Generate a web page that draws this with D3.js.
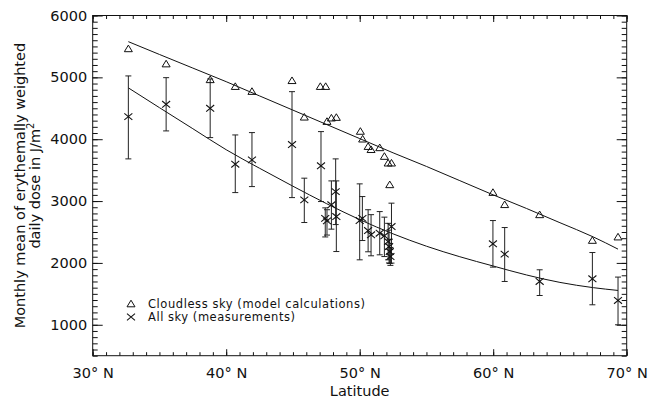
<!DOCTYPE html>
<html>
<head>
<meta charset="utf-8">
<script src="https://cdn.jsdelivr.net/npm/d3@7"></script>
<style>
  body { margin: 0; background: #fff; }
  text { font-family: "DejaVu Sans", sans-serif; fill: #111; }
</style>
</head>
<body>
<div id="chart"></div>
<script>
// cloudless sky, model calculations (triangles)
const clearLat = [32.67, 35.5, 38.8, 40.68, 41.93, 44.93, 45.85, 47.05, 47.45, 47.55, 47.88, 48.25,
                  50.05, 50.22, 50.63, 50.85, 51.5, 51.85, 52.13, 52.38, 52.25, 59.98, 60.86, 63.48, 67.43, 69.35];
const clearDose = [5460, 5215, 4960, 4850, 4770, 4945, 4355, 4850, 4850, 4285, 4340, 4350,
                   4125, 4000, 3880, 3830, 3860, 3720, 3612, 3612, 3262, 3137, 2940, 2777, 2362, 2417];

// all sky, measurements (crosses) with error bars
const allLat = [32.67, 35.5, 38.8, 40.68, 41.93, 44.93, 45.85, 47.1, 47.42, 47.55, 47.88, 48.2, 48.25,
                50.0, 50.2, 50.63, 50.85, 51.5, 51.85, 52.13, 52.2, 52.25, 52.3, 52.38,
                59.98, 60.86, 63.48, 67.43, 69.35];
const allDose = [4365, 4565, 4500, 3596, 3666, 3913, 3019, 3570, 2720, 2680, 2939, 3153, 2750,
                 2685, 2720, 2523, 2454, 2481, 2438, 2346, 2265, 2184, 2103, 2588,
                 2309, 2142, 1700, 1743, 1393];
const allLow = [3682, 4134, 4026, 3137, 3234, 3056, 2653, 2992, 2420, 2450, 2546, 2620, 2184,
                2050, 2362, 2180, 2115, 2131, 2103, 2050, 2000, 1990, 1960, 1997,
                1932, 1700, 1473, 1323, 1000];
const allHigh = [5023, 4995, 4974, 4069, 4107, 4769, 3370, 4123, 2890, 2860, 3326, 3682, 3326,
                 3278, 3073, 2860, 2780, 2830, 2740, 2640, 2530, 2380, 2250, 2966,
                 2685, 2572, 1889, 2168, 1771];

// fitted curves
const fitLat = [32.67, 35, 37.5, 40, 42.5, 45, 47.5, 50, 52.5, 55, 57.5, 60, 62.5, 65, 67.5, 69.35];
const fitClear = [5577, 5370, 5150, 4930, 4700, 4470, 4240, 4010, 3780, 3560, 3330, 3100, 2880, 2650, 2420, 2223];
const fitAll = [4830, 4510, 4170, 3830, 3530, 3240, 2960, 2700, 2470, 2270, 2100, 1950, 1805, 1685, 1600, 1555];

const xMajor = [30, 40, 50, 60, 70];
const yMajor = [1000, 2000, 3000, 4000, 5000, 6000];

const width = 650, height = 398;
const margin = {top: 15.5, right: 23.3, bottom: 42.3, left: 92.7};
const w = width - margin.left - margin.right;
const h = height - margin.top - margin.bottom;

const svg = d3.select('#chart').append('svg')
    .attr('width', width)
    .attr('height', height);

const g = svg.append('g')
    .attr('transform', 'translate(' + margin.left + ',' + margin.top + ')');

const x = d3.scaleLinear().domain([30, 70]).range([0, w]);
const y = d3.scaleLinear().domain([500, 6000]).range([h, 0]);

const xMinor = d3.range(30, 71, 1);
const yMinor = d3.range(500, 6001, 100);

function clean(sel) {
    sel.select('.domain').remove();
    sel.selectAll('line').attr('stroke', '#111');
}

// minor ticks on all sides
g.append('g').attr('transform', 'translate(0,' + h + ')')
    .call(d3.axisBottom(x).tickValues(xMinor).tickSize(-3.5).tickFormat('')).call(clean);
g.append('g')
    .call(d3.axisTop(x).tickValues(xMinor).tickSize(-3.5).tickFormat('')).call(clean);
g.append('g')
    .call(d3.axisLeft(y).tickValues(yMinor).tickSize(-5).tickFormat('')).call(clean);
g.append('g').attr('transform', 'translate(' + w + ',0)')
    .call(d3.axisRight(y).tickValues(yMinor).tickSize(-5).tickFormat('')).call(clean);

// major ticks
g.append('g').attr('class', 'x axis').attr('transform', 'translate(0,' + h + ')')
    .call(d3.axisBottom(x).tickValues(xMajor).tickSize(-6.5).tickPadding(12)
        .tickFormat(d => d + '\u00b0 N'))
    .call(clean);
g.append('g')
    .call(d3.axisTop(x).tickValues(xMajor).tickSize(-6.5).tickFormat('')).call(clean);
g.append('g').attr('class', 'y axis')
    .call(d3.axisLeft(y).tickValues(yMajor).tickSize(-10).tickPadding(5.5).tickFormat(d3.format('d')))
    .call(clean);
g.append('g').attr('transform', 'translate(' + w + ',0)')
    .call(d3.axisRight(y).tickValues(yMajor).tickSize(-10).tickFormat('')).call(clean);

g.selectAll('.axis text')
    .style('font-family', '"DejaVu Sans", sans-serif')
    .style('font-size', '14.5px')
    .attr('fill', '#111');

// frame
g.append('rect')
    .attr('width', w).attr('height', h)
    .attr('fill', 'none').attr('stroke', '#111').attr('stroke-width', 1);

// fitted lines
const line = d3.line().x(d => x(d[0])).y(d => y(d[1])).curve(d3.curveMonotoneX);
g.append('path')
    .datum(fitLat.map((d, i) => [d, fitClear[i]]))
    .attr('d', line).attr('fill', 'none').attr('stroke', '#111').attr('stroke-width', 1);
g.append('path')
    .datum(fitLat.map((d, i) => [d, fitAll[i]]))
    .attr('d', line).attr('fill', 'none').attr('stroke', '#111').attr('stroke-width', 1);

// error bars
const bars = g.append('g').attr('stroke', '#222').attr('stroke-width', 1);
allLat.forEach(function(lat, i) {
    let cx = x(lat);
    bars.append('line').attr('x1', cx).attr('x2', cx).attr('y1', y(allLow[i])).attr('y2', y(allHigh[i]));
    bars.append('line').attr('x1', cx - 3).attr('x2', cx + 3).attr('y1', y(allLow[i])).attr('y2', y(allLow[i]));
    bars.append('line').attr('x1', cx - 3).attr('x2', cx + 3).attr('y1', y(allHigh[i])).attr('y2', y(allHigh[i]));
});

const triPath = 'M-4,2.8L4,2.8L0,-3.8Z';
const crossPath = 'M-4,-3.3L4,3.3M-4,3.3L4,-3.3';

// crosses
g.selectAll('.cross')
    .data(allLat)
    .enter().append('path')
    .attr('class', 'cross')
    .attr('d', crossPath)
    .attr('transform', (d, i) => 'translate(' + x(d) + ',' + y(allDose[i]) + ')')
    .attr('fill', 'none').attr('stroke', '#111').attr('stroke-width', 1.1);

// triangles
g.selectAll('.tri')
    .data(clearLat)
    .enter().append('path')
    .attr('class', 'tri')
    .attr('d', triPath)
    .attr('transform', (d, i) => 'translate(' + x(d) + ',' + y(clearDose[i]) + ')')
    .attr('fill', 'none').attr('stroke', '#111').attr('stroke-width', 1);

// legend
svg.append('path').attr('d', triPath).attr('transform', 'translate(131,304)')
    .attr('fill', 'none').attr('stroke', '#111');
svg.append('path').attr('d', crossPath).attr('transform', 'translate(131,317)')
    .attr('fill', 'none').attr('stroke', '#111').attr('stroke-width', 1.1);
svg.append('text').attr('x', 148).attr('y', 307.5).style('font-size', '11.5px')
    .attr('textLength', 217).text('Cloudless sky (model calculations)');
svg.append('text').attr('x', 148).attr('y', 321).style('font-size', '11.5px')
    .attr('textLength', 147).text('All sky (measurements)');

// axis titles
svg.append('text')
    .attr('x', margin.left + w / 2).attr('y', 395.5)
    .attr('text-anchor', 'middle').style('font-size', '14.5px')
    .text('Latitude');

const yTitle = svg.append('text')
    .attr('transform', 'translate(24.5,' + (margin.top + h / 2) + ') rotate(-90)')
    .attr('text-anchor', 'middle').style('font-size', '14.5px');
yTitle.append('tspan').attr('x', 0).attr('y', 0).text('Monthly mean of erythemally weighted');
yTitle.append('tspan').attr('x', 0).attr('y', 15.5).text('daily dose in J/m')
    .append('tspan').attr('dy', -6).style('font-size', '10px').text('2');
</script>
</body>
</html>
